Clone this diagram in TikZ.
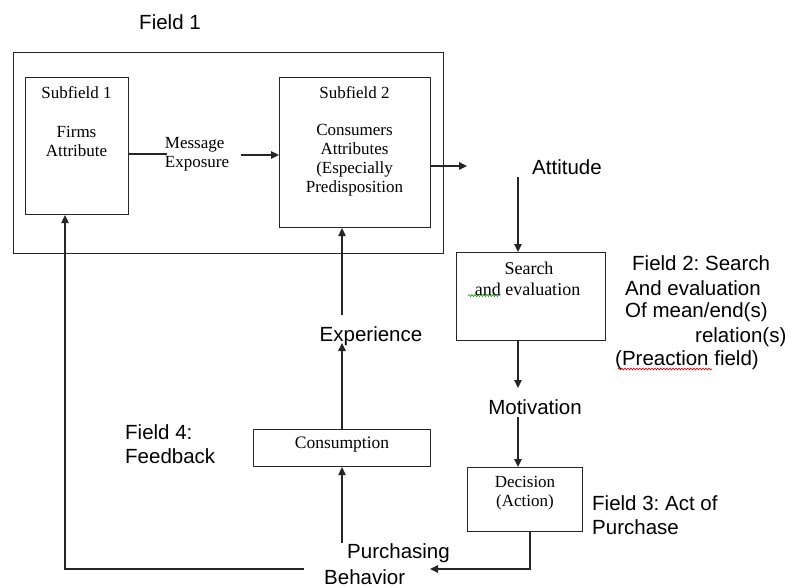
\documentclass[tikz,border=0pt]{standalone}
\usepackage{fontspec}
\setmainfont{Liberation Serif}
\newfontfamily\arialf{Liberation Sans}
\frenchspacing
\usetikzlibrary{arrows.meta,decorations.pathmorphing}
\tikzset{
  box/.style={draw=black!85, line width=1.1pt, inner sep=0pt, anchor=north west},
  lbl/.style={font=\arialf\fontsize{20.5}{24.5}\selectfont, inner sep=0pt, text=black},
  ser/.style={font=\fontsize{17}{19}\selectfont, inner sep=0pt, align=center, text=black},
  conn/.style={draw=black!85, line width=1.1pt},
  arr/.style={conn, -{Triangle[length=8pt,width=7.5pt]}},
  spellg/.style={draw=green!60!black, line width=0.6pt, decorate, decoration={snake, amplitude=0.9pt, segment length=3pt}},
  spellr/.style={draw=red!80!black, line width=0.6pt, decorate, decoration={snake, amplitude=0.9pt, segment length=3pt}}
}
\begin{document}
\begin{tikzpicture}[x=1pt,y=-1pt]
\useasboundingbox (0,0) rectangle (792,588);
% boxes
\node[box, minimum width=430pt, minimum height=201pt] (f1) at (13,52) {};
\node[box, minimum width=103pt, minimum height=137pt] (sf1) at (25,77) {};
\node[box, minimum width=151pt, minimum height=150pt] (sf2) at (279,77) {};
\node[box, minimum width=149pt, minimum height=88pt] (se) at (456,252) {};
\node[box, minimum width=115pt, minimum height=64pt] (de) at (467,467) {};
\node[box, minimum width=177pt, minimum height=37pt] (co) at (253,429) {};
% box texts
\node[ser] (sf1t) at (76.5,93) {Subfield 1};
\node[ser] (sf1b) at (76.5,141.5) {Firms\\Attribute};
\node[ser] (sf2t) at (354.5,93) {Subfield 2};
\node[ser] (sf2b) at (354.5,160.5) {Consumers\\Attributes\\(Especially\\Predisposition};
\node[ser, align=left] (msg) at (197,154.5) {Message\\Exposure};
\node[ser, font=\fontsize{18}{21}\selectfont] (set) at (529,268) {Search};
\node[ser, font=\fontsize{18}{21}\selectfont] (seb) at (527.5,289) {and evaluation};
\node[ser] (det) at (525,493) {Decision\\(Action)};
\node[ser, font=\fontsize{17.5}{21}\selectfont] (cot) at (342,445) {Consumption};
% sans labels
\node[lbl] (field1) at (170,22) {Field 1};
\node[lbl] (att) at (567,167) {Attitude};
\node[lbl] (exp) at (371,336) {Experience};
\node[lbl] (mot) at (535,407) {Motivation};
\node[lbl, anchor=west] (pur) at (347,553) {Purchasing};
\node[lbl, anchor=west] (beh) at (324,577) {Behavior};
\node[lbl, anchor=west] (f4a) at (125,432) {Field 4:};
\node[lbl, anchor=west] (f4b) at (125,456) {Feedback};
\node[lbl, anchor=west] (f3a) at (592,503) {Field 3: Act of};
\node[lbl, anchor=west] (f3b) at (592,527) {Purchase};
\node[lbl, anchor=west] (f2a) at (632,263) {Field 2: Search};
\node[lbl, anchor=west] (f2b) at (625,288) {And evaluation};
\node[lbl, anchor=west] (f2c) at (625,312) {Of mean/end(s)};
\node[lbl, anchor=west] (f2d) at (695,337) {relation(s)};
\node[lbl, anchor=west] (f2e) at (615,360) {(Preaction field)};
% spell-check underlines
\draw[spellg] (468,295.5) -- (500,295.5);
\draw[spellr] (618,369) -- (712,369);
% connector coordinates
\coordinate (m1) at (167,154);
\coordinate (m2) at (241,155);
\coordinate (a1) at (467,166);
\coordinate (a2) at (518,177);
\coordinate (s2) at (518,388);
\coordinate (mo2) at (518,417);
\coordinate (d1) at (530,569);
\coordinate (pb) at (430,569);
\coordinate (pu) at (342,543);
\coordinate (ex1) at (342,343);
\coordinate (ex2) at (342,315);
\coordinate (fb1) at (304,569);
\coordinate (fb2) at (65,569);
% connectors
\draw[conn] (sf1.east |- m1) -- (m1);
\draw[arr] (m2) -- (sf2.west |- m2);
\draw[arr] (sf2.east |- a1) -- (a1);
\draw[arr] (a2) -- (a2 |- se.north);
\draw[arr] (se.south -| s2) -- (s2);
\draw[arr] (mo2) -- (mo2 |- de.north);
\draw[arr] (de.south -| d1) -- (d1) -- (pb);
\draw[arr] (pu) -- (pu |- co.south);
\draw[arr] (co.north -| ex1) -- (ex1);
\draw[arr] (ex2) -- (ex2 |- sf2.south);
\draw[arr] (fb1) -- (fb2) -- (fb2 |- sf1.south);
\end{tikzpicture}
\end{document}
